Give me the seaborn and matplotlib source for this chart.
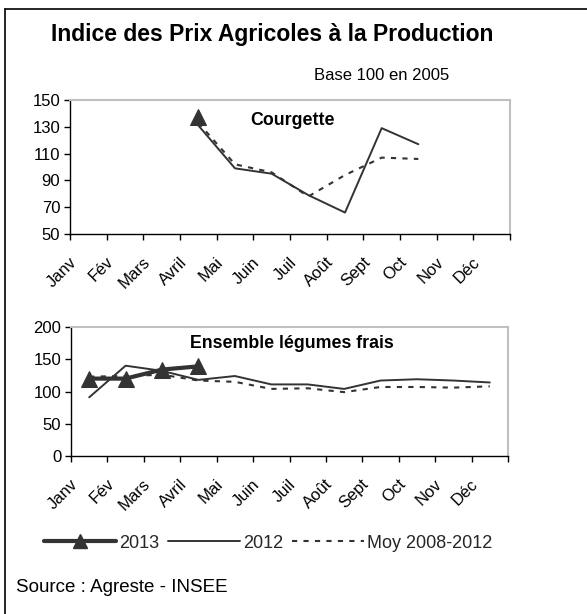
import numpy as np
import pandas as pd
import matplotlib
matplotlib.use("Agg")
import matplotlib.pyplot as plt
from matplotlib.lines import Line2D
import matplotlib.transforms as mtransforms
import seaborn as sns

sns.set_theme(style="white")
plt.rcParams['font.family'] = ['Liberation Sans', 'DejaVu Sans']

months = ["Janv", "Fév", "Mars", "Avril", "Mai", "Juin", "Juil", "Août", "Sept", "Oct", "Nov", "Déc"]

# Courgette
courg_2013 = [np.nan, np.nan, np.nan, 137, np.nan, np.nan, np.nan, np.nan, np.nan, np.nan, np.nan, np.nan]
courg_2012 = [np.nan, np.nan, np.nan, 131, 99, 95, 79, 66, 129, 117, np.nan, np.nan]
courg_moy = [np.nan, np.nan, np.nan, 133, 102, 96, 78, 94, 107, 106, np.nan, np.nan]

# Ensemble légumes frais
leg_2013 = [120, 120, 134, 139, np.nan, np.nan, np.nan, np.nan, np.nan, np.nan, np.nan, np.nan]
leg_2012 = [91, 140, 132, 118, 124, 111, 111, 104, 117, 119, 117, 114]
leg_moy = [123, 124, 126, 117, 115, 104, 105, 99, 107, 107, 106, 108]

series_names = ["2013", "2012", "Moy 2008-2012"]

DARK = "#333333"
GRID = "#c0c0c0"
DASH = (0, (2.5, 3))

fig = plt.figure(figsize=(5.87, 6.14), dpi=100)

ax1 = fig.add_axes([70/587, 1-234/614, 440/587, 134/614])
ax2 = fig.add_axes([71/587, 1-456/614, 437/587, 129/614])


def draw(ax, s13, s12, smoy, ylim, yticks, title, ty):
    x = np.arange(len(months))
    df12 = pd.DataFrame({"x": x, "y": s12}).dropna()
    dfm = pd.DataFrame({"x": x, "y": smoy}).dropna()
    df13 = pd.DataFrame({"x": x, "y": s13}).dropna()
    sns.lineplot(data=dfm, x="x", y="y", ax=ax, color=DARK, lw=1.5,
                 linestyle=DASH, estimator=None)
    sns.lineplot(data=df12, x="x", y="y", ax=ax, color=DARK, lw=1.4, estimator=None)
    sns.lineplot(data=df13, x="x", y="y", ax=ax, color=DARK, lw=3.0, marker="^",
                 markersize=11, markeredgecolor=DARK, markerfacecolor=DARK, estimator=None)
    ax.set_xlim(-0.5, 11.5)
    ax.set_ylim(*ylim)
    ax.set_yticks(yticks)
    ax.set_yticklabels([str(v) for v in yticks], fontsize=12, color="black")
    ax.set_xticks(x)
    ax.set_xticklabels(months, rotation=45, ha="right", va="center", rotation_mode="anchor",
                       fontsize=12, color="black")
    ax.set_xticks(np.arange(-0.5, 12, 1), minor=True)
    ax.tick_params(axis="x", which="major", length=0, pad=18.5)
    ax.tick_params(axis="x", which="minor", length=4, width=1, color="black", direction="out", bottom=True)
    ax.tick_params(axis="y", length=4, width=1, color="black", direction="out", left=True, pad=3)
    offset = mtransforms.ScaledTranslation(-14/100, 0, fig.dpi_scale_trans)
    for lab in ax.get_xticklabels():
        lab.set_transform(lab.get_transform() + offset)
    ax.set_xlabel("")
    ax.set_ylabel("")
    for side in ["top", "right"]:
        ax.spines[side].set_color(GRID)
        ax.spines[side].set_linewidth(1.5)
    for side in ["left", "bottom"]:
        ax.spines[side].set_color("black")
        ax.spines[side].set_linewidth(1)
    ax.grid(False)
    ax.text(0.505, ty, title, transform=ax.transAxes, ha="center", va="center",
            fontsize=12.8, fontweight="bold", color="black")


draw(ax1, courg_2013, courg_2012, courg_moy, (50, 150), [50, 70, 90, 110, 130, 150], "Courgette", 0.85)
draw(ax2, leg_2013, leg_2012, leg_moy, (0, 200), [0, 50, 100, 150, 200], "Ensemble légumes frais", 0.87)

fig.text(272/587, 1-35/614, "Indice des Prix Agricoles à la Production", ha="center", va="center",
         fontsize=16.5, fontweight="bold", color="black")
fig.text(382/587, 1-76/614, "Base 100 en 2005", ha="center", va="center", fontsize=12, color="black")
fig.text(16/587, 1-587/614, "Source : Agreste - INSEE", ha="left", va="center", fontsize=13.5, color="black")

h13 = Line2D([0, 1, 2], [0, 0, 0], color=DARK, lw=3.0, marker="^", markersize=10, markevery=[1])
handles = [
    h13,
    Line2D([], [], color=DARK, lw=1.4),
    Line2D([], [], color=DARK, lw=1.5, linestyle=DASH),
]
fig.legend(handles, series_names, loc="center", bbox_to_anchor=(268/587, 1-543/614), ncol=3,
           frameon=False, fontsize=13, handlelength=4.0, handletextpad=0.15, columnspacing=0.5,
           borderpad=0)

# outer frame (top and left only)
fig.add_artist(Line2D([5/587, 1], [1-9/614, 1-9/614], transform=fig.transFigure, color="black", lw=1.2))
fig.add_artist(Line2D([5/587, 5/587], [0, 1-9/614], transform=fig.transFigure, color="black", lw=1.2))

fig.savefig("out.png", dpi=100, facecolor="white")
